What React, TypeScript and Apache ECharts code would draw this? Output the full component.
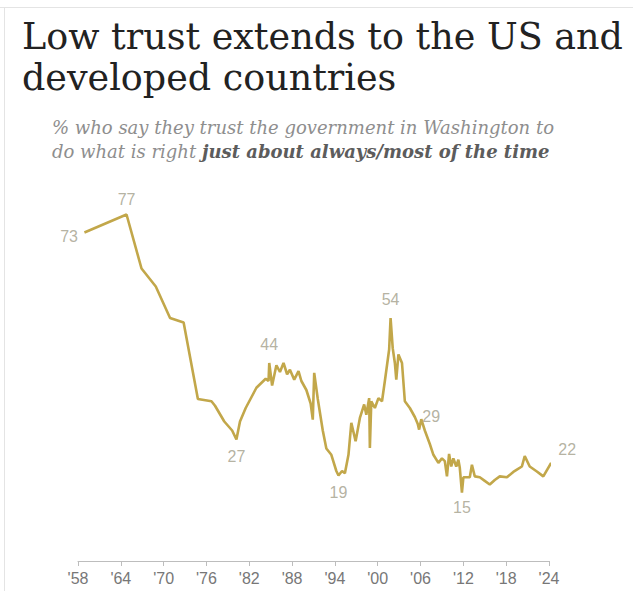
import React, { useEffect, useRef } from "react";
import * as echarts from "echarts";

// Survey dates (fractional year) and moving-average trust values (%)
const years = [
  1958.9, 1964.8, 1966.9, 1968.9, 1970.9, 1972.8, 1974.8, 1976.7, 1977.2, 1978.5,
  1979.6, 1980.2, 1980.7, 1981.5, 1983.0, 1984.3, 1984.7, 1984.8, 1985.2, 1985.8,
  1986.3, 1986.8, 1987.3, 1987.7, 1988.3, 1988.9, 1989.3, 1990.0, 1990.6, 1990.9,
  1991.1, 1991.6, 1992.3, 1992.8, 1993.5, 1994.2, 1994.5, 1995.0, 1995.4, 1995.9,
  1996.3, 1996.9, 1997.5, 1998.1, 1998.4, 1998.8, 1998.9, 1999.1, 1999.6, 2000.1,
  2000.6, 2001.0, 2001.6, 2001.8, 2002.1, 2002.4, 2002.6, 2002.9, 2003.4, 2003.8,
  2004.5, 2005.2, 2005.6, 2005.8, 2006.1, 2006.6, 2007.3, 2007.8, 2008.5, 2009.0,
  2009.4, 2009.7, 2010.0, 2010.3, 2010.6, 2011.0, 2011.3, 2011.5, 2011.8, 2012.0,
  2012.9, 2013.2, 2013.6, 2014.3, 2015.0, 2015.7, 2016.4, 2017.1, 2018.1, 2019.0,
  2019.5, 2020.2, 2020.6, 2021.3, 2022.3, 2023.2, 2024.3,
];
const trust = [
  73, 77, 65, 61, 54, 53, 36, 35.5, 34.5, 31,
  29, 27, 31, 34, 38.5, 40.5, 40, 44, 39, 43.5,
  42, 44, 41.5, 42.5, 40.3, 42.2, 40, 38, 35, 31.4,
  41.8, 36, 29, 25, 23.6, 20, 19, 20, 19.5, 23.6,
  30.7, 26.6, 31.8, 34.8, 32.5, 36.2, 25.1, 35.5, 34, 36.2,
  35.5, 40, 47, 54, 47.3, 44, 40.3, 45.9, 44, 35.5,
  34, 32, 30.5, 29.2, 31.5, 29, 26, 23.6, 21.8, 22.8,
  22.2, 18.8, 23.8, 21, 22.8, 21, 22.5, 20.7, 15.2, 18.6,
  18.6, 21.4, 18.8, 18.6, 17.8, 17, 18, 18.8, 18.6, 19.8,
  20.3, 21, 23.3, 21, 19.9, 18.8, 21.8,
];

// Annotated points
const labelYears = [1958.9, 1964.8, 1980.2, 1984.8, 1994.5, 2001.8, 2005.8, 2011.8, 2024.3];
const labelValues = [73, 77, 27, 44, 19, 54, 29, 15, 22];
const labelTexts = ["73", "77", "27", "44", "19", "54", "29", "15", "22"];

// Axis
const startYear = 1958;
const tickLabels = ["'58", "'64", "'70", "'76", "'82", "'88", "'94", "'00", "'06", "'12", "'18", "'24"];

const title = "Low trust extends to the US and\ndeveloped countries";
const subtitleLine1 = "% who say they trust the government in Washington to";
const subtitleLine2a = "do what is right ";
const subtitleLine2b = "just about always/most of the time";

const labelPlacement: Record<string, any> = {
  "73": { position: "left", distance: 6, offset: [0, 4] },
  "77": { position: "top", distance: 7 },
  "27": { position: "bottom", distance: 8 },
  "44": { position: "top", distance: 10 },
  "19": { position: "bottom", distance: 8 },
  "54": { position: "top", distance: 10 },
  "29": { position: "top", distance: 6, offset: [12, 0] },
  "15": { position: "bottom", distance: 5 },
  "22": { position: "top", distance: 4, offset: [16, 0] },
};

export default function App() {
  const ref = useRef<HTMLDivElement>(null);
  useEffect(() => {
    if (!ref.current) return;
    const chart = echarts.init(ref.current, null, { renderer: "svg" });
    const lineData = years.map((y, i) => [y - startYear, trust[i]]);
    const labelData = labelYears.map((y, i) => {
      const p = labelPlacement[labelTexts[i]] || {};
      return {
        value: [y - startYear, labelValues[i]],
        label: { show: true, formatter: labelTexts[i], ...p },
      };
    });
    chart.setOption({
      animation: false,
      backgroundColor: "#ffffff",
      grid: { left: 78, right: 84, top: 201, bottom: 30, containLabel: false },
      xAxis: {
        type: "value",
        min: 0,
        max: 66,
        interval: 6,
        axisLine: { show: true, lineStyle: { color: "#bdbdbd", width: 1 } },
        axisTick: { show: true, length: 5, lineStyle: { color: "#bdbdbd" } },
        splitLine: { show: false },
        axisLabel: {
          color: "#777777",
          fontSize: 16,
          fontFamily: "Liberation Sans",
          margin: 9,
          formatter: (v: number) => tickLabels[Math.round(v / 6)] ?? "",
        },
      },
      yAxis: { type: "value", min: 0, max: 80, show: false },
      series: [
        {
          type: "line",
          data: lineData,
          showSymbol: false,
          symbol: "none",
          clip: false,
          lineStyle: { color: "#c2a74a", width: 2.6 },
          z: 3,
        },
        {
          type: "scatter",
          data: labelData,
          symbolSize: 1,
          itemStyle: { color: "rgba(0,0,0,0)" },
          clip: false,
          label: {
            show: true,
            color: "#a29e8a",
            fontSize: 16,
            fontFamily: "Liberation Sans",
          },
          z: 4,
        },
      ],
      graphic: [
        { type: "line", shape: { x1: 0, y1: 7.5, x2: 633, y2: 7.5 }, style: { stroke: "#e4e4e4", lineWidth: 1 } },
        { type: "line", shape: { x1: 4.5, y1: 7, x2: 4.5, y2: 591 }, style: { stroke: "#e4e4e4", lineWidth: 1 } },
        {
          type: "text",
          left: 22,
          top: 16,
          style: {
            text: title,
            font: '36.5px "DejaVu Serif"',
            fill: "#222222",
            lineHeight: 41,
          },
        },
        {
          type: "text",
          left: 52,
          top: 118,
          style: {
            text: `{n|${subtitleLine1}}\n{n|${subtitleLine2a}}{b|${subtitleLine2b}}`,
            rich: {
              n: { font: 'italic 18px "DejaVu Serif"', fill: "#8e8e8e", lineHeight: 24 },
              b: { font: 'italic bold 18px "DejaVu Serif"', fill: "#5c5c5c", lineHeight: 24 },
            },
          },
        },
      ],
    });
    return () => chart.dispose();
  }, []);
  return (
    <div
      ref={ref}
      style={{ position: "fixed", left: 0, top: 0, width: 633, height: 591 }}
    />
  );
}
